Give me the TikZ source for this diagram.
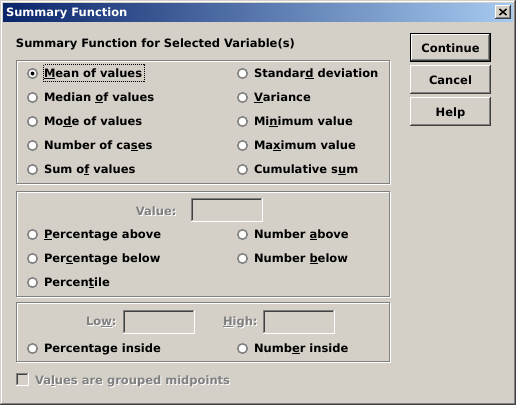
\documentclass[tikz,border=0pt]{standalone}
\usepackage{fontspec}
\setmainfont{DejaVu Sans}
\usetikzlibrary{positioning}

\definecolor{face}{HTML}{D4D0C8}
\definecolor{shadow}{HTML}{808080}
\definecolor{darkshadow}{HTML}{404040}
\definecolor{titledark}{HTML}{0A246A}
\definecolor{titlelight}{HTML}{A6CAF0}

\newcommand{\dlgfont}{\fontsize{11.5}{13}\selectfont\bfseries}
\newcommand{\hotkey}[1]{\setbox0\hbox{#1}\rlap{\rule[-2pt]{\wd0}{1pt}}\box0\relax}
\newcommand{\raised}[2][0pt]{%
  \draw[white] ([shift={({#1+.5pt},{#1+1pt})}]#2.south west) |- ([shift={({-#1-1pt},{-#1-.5pt})}]#2.north east);
  \draw[darkshadow] ([shift={(#1,{#1+.5pt})}]#2.south west) -| ([shift={({-#1-.5pt},-#1)}]#2.north east);
  \draw[shadow] ([shift={({#1+1pt},{#1+1.5pt})}]#2.south west) -| ([shift={({-#1-1.5pt},{-#1-1pt})}]#2.north east);
}
\newcommand{\sunken}[1]{%
  \draw[shadow] ([shift={(.5pt,1pt)}]#1.south west) |- ([shift={(-1pt,-.5pt)}]#1.north east);
  \draw[darkshadow] ([shift={(1.5pt,2pt)}]#1.south west) |- ([shift={(-2pt,-1.5pt)}]#1.north east);
  \draw[white] ([yshift=.5pt]#1.south west) -| ([xshift=-.5pt]#1.north east);
}

\begin{document}
\begin{tikzpicture}[%
    x=1pt, y=-1pt,
    every node/.style={font=\dlgfont, inner sep=0pt, outer sep=0pt},
    opt/.style={anchor=base west},
    radio/.style={circle, draw=shadow, line width=1.5pt, fill=white, minimum size=9.5pt},
    btn/.style={fill=face, minimum width=81pt, minimum height=29pt, text height=9pt, text depth=0pt},
    editbox/.style={minimum width=72pt, minimum height=24pt},
  ]
    \useasboundingbox (0,0) rectangle (516,405);
    \fill[face] (0,0) rectangle (516,405);

    % window frame and title bar
    \draw[white] (1.5,403) |- (514,1.5);
    \draw[shadow] (1,403.5) -| (514.5,1);
    \draw[darkshadow] (0,404.5) -| (515.5,0);
    \shade[left color=titledark, right color=titlelight] (3,3) rectangle (513,21);
    \node[opt, white] (title) at (6,16) {Summary Function};
    \node[btn, minimum width=16pt, minimum height=14pt] (close) at (503,12) {};
    \raised{close}
    \draw[line width=1.5pt]
      ([shift={(-3.5pt,3pt)}]close.center) -- ([shift={(3.5pt,-3pt)}]close.center)
      ([shift={(-3.5pt,-3pt)}]close.center) -- ([shift={(3.5pt,3pt)}]close.center);

    % group boxes
    \foreach \t/\b in {60/183, 191/296, 302/361} {
      \draw[white] (17.5,\t+1.5) rectangle (390.5,\b+1.5);
      \draw[shadow] (16.5,\t+.5) rectangle (389.5,\b+.5);
    }
    \node[opt] (header) at (16,47) {Summary Function for Selected Variable(s)};

    % radio buttons
    \foreach \x/\b/\name/\txt in {%
        32.5/77/mean/{\hotkey{M}ean of values},
        32.5/101/median/{Median \hotkey{o}f values},
        32.5/125/mode/{Mo\hotkey{d}e of values},
        32.5/149/ncases/{Number of ca\hotkey{s}es},
        32.5/173/sum/{Sum o\hotkey{f} values},
        242.5/77/sd/{Standar\hotkey{d} deviation},
        242.5/101/var/{\hotkey{V}ariance},
        242.5/125/min/{Mi\hotkey{n}imum value},
        242.5/149/max/{Ma\hotkey{x}imum value},
        242.5/173/cumsum/{Cumulative s\hotkey{u}m},
        32.5/238/pabove/{\hotkey{P}ercentage above},
        32.5/262/pbelow/{Per\hotkey{c}entage below},
        32.5/286/pctl/{Percen\hotkey{t}ile},
        242.5/238/nabove/{Number \hotkey{a}bove},
        242.5/262/nbelow/{Number \hotkey{b}elow},
        32.5/352/pinside/{Percentage inside},
        242.5/352/ninside/{Numb\hotkey{e}r inside}} {
      \node[radio] (r-\name) at (\x,\b-3.5) {};
      \node[opt] (\name) at (\x+11.5,\b) {\txt};
    }
    \fill (r-mean) circle (2pt);
    \draw[dash pattern=on 1pt off 1pt] (43.5,64.5) rectangle (144.5,81.5);

    % disabled fields
    \node[editbox] (valuebox) at (227,210) {};
    \node[editbox] (lowbox) at (159,322) {};
    \node[editbox] (highbox) at (299,322) {};
    \node[minimum size=13pt] (checkbox) at (22.5,379.5) {};
    \foreach \n in {valuebox,lowbox,highbox,checkbox} {\sunken{\n}}
    \foreach \x/\b/\anc/\name/\txt in {%
        176.5/215/east/value/{Value:},
        116.5/325/east/low/{Lo\hotkey{w}:},
        223/325/west/high/{\hotkey{H}igh:},
        35/384/west/grouped/{Va\hotkey{l}ues are grouped midpoints}} {
      \node[anchor=base \anc, white] at (\x+1,\b+1) {\txt};
      \node[anchor=base \anc, shadow] (\name) at (\x,\b) {\txt};
    }

    % buttons
    \node[btn] (continue) at (450.5,47.5) {Continue};
    \node[btn, below=3pt of continue] (cancel) {Cancel};
    \node[btn, below=3pt of cancel] (help) {Help};
    \draw ([shift={(.5pt,.5pt)}]continue.south west) rectangle ([shift={(-.5pt,-.5pt)}]continue.north east);
    \raised[1pt]{continue}
    \raised{cancel}
    \raised{help}
  \end{tikzpicture}
\end{document}
